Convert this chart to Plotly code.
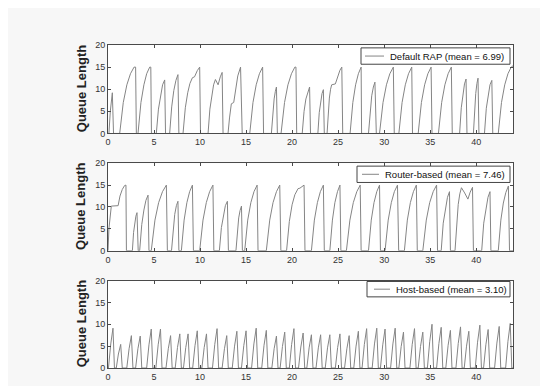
import plotly.graph_objects as go
from plotly.subplots import make_subplots

# ---------------- data ----------------
x_ticks = [0, 5, 10, 15, 20, 25, 30, 35, 40]
y_ticks = [0, 5, 10, 15, 20]

default_label = "Default RAP (mean = 6.99)"
router_label = "Router-based (mean = 7.46)"
host_label = "Host-based (mean = 3.10)"

default_t = [0, 0.1, 0.25, 0.47, 0.6, 1.27, 1.66, 2.05, 2.44, 2.83, 3.0, 3.08,
             3.26, 3.58, 3.9, 4.2, 4.53, 4.65, 4.72,
             5.25, 5.48, 5.7, 5.93, 6.16, 6.25,
             6.7, 6.92, 7.15, 7.38, 7.6, 7.7,
             8.15, 8.4, 8.66, 8.9, 9.17, 9.4, 9.7, 9.96, 10.05,
             10.87, 11.07, 11.27, 11.47, 11.67, 11.96, 12.2, 12.4, 12.5,
             13.04, 13.2, 13.4, 13.66, 13.85, 14.1, 14.4, 14.58,
             15.4, 15.75, 16.1, 16.45, 16.8, 16.9,
             17.75, 17.9, 18.05, 18.18, 18.3, 18.4,
             18.8, 19.18, 19.55, 19.93, 20.3, 20.42, 20.5,
             21.1, 21.3, 21.5, 21.7, 21.9, 22.0,
             22.8, 22.95, 23.1, 23.25, 23.4, 23.5,
             23.8, 23.92, 24.05, 24.18, 24.3, 24.7, 24.95, 25.2, 25.4, 25.5,
             26.3, 26.6, 26.9, 27.2, 27.5, 27.55,
             28.3, 28.48, 28.65, 28.83, 29.0, 29.15,
             29.5, 29.88, 30.25, 30.62, 31.0, 31.1,
             31.6, 31.95, 32.3, 32.65, 33.0, 33.08,
             33.7, 34.05, 34.4, 34.75, 35.1, 35.2,
             35.9, 36.25, 36.6, 36.95, 37.3, 37.4,
             38.2, 38.38, 38.55, 38.73, 38.9, 39.0,
             39.7, 39.82, 39.95, 40.08, 40.2, 40.3,
             40.9, 41.1, 41.3, 41.5, 41.7, 41.8,
             42.4, 42.75, 43.1, 43.45, 43.8, 44.0]
default_q = [0, 0, 5, 9.2, 0, 0, 7, 11, 13.5, 15, 15, 0,
             0, 7, 11, 13.5, 15, 15, 0,
             0, 5.5, 8.8, 11, 12.1, 0,
             0, 6, 9.7, 12, 13.3, 0,
             0, 5.8, 9.2, 11.3, 12.6, 12.8, 14.2, 15, 0,
             0, 5.5, 8.8, 11, 12.2, 11, 12.8, 13.8, 0,
             0, 3.5, 6.7, 7, 10, 13, 15, 0,
             0, 7, 11, 13.5, 15, 0,
             0, 5, 7.8, 9.5, 10.5, 0,
             0, 7, 11, 13.5, 15, 15, 0,
             0, 5, 7.8, 9.5, 10.5, 0,
             0, 4.7, 7.4, 9, 9.9, 0,
             0, 5, 8, 10, 11, 11.2, 13, 14.3, 15, 0,
             0, 7, 11, 13.5, 15, 0,
             0, 5.5, 8.5, 10.5, 11.6, 0,
             0, 7, 11, 13.5, 15, 0,
             0, 7, 11, 13.5, 15, 0,
             0, 7, 11, 13.5, 15, 0,
             0, 7, 11, 13.5, 15, 0,
             0, 5.8, 9, 11.2, 12.3, 0,
             0, 6, 9, 11.3, 12.5, 0,
             0, 5.7, 8.8, 11, 12, 0,
             0, 7, 11, 13.5, 15, 15.3]

router_t = [0, 0.1, 0.36, 0.7, 1.1, 1.3, 1.55, 1.8, 1.95, 2.0,
            2.65, 2.78, 2.9, 3.03, 3.15, 3.28,
            3.44, 3.67, 3.9, 4.12, 4.35, 4.45,
            4.7, 5.1, 5.5, 5.92, 6.34, 6.45,
            6.9, 7.08, 7.25, 7.43, 7.6, 7.7,
            7.97, 8.27, 8.57, 8.87, 9.17, 9.28,
            9.96, 10.32, 10.68, 11.04, 11.4, 11.5,
            12.1, 12.32, 12.53, 12.75, 12.97, 13.08,
            13.9, 14.05, 14.2, 14.35, 14.5, 14.6,
            14.85, 15.18, 15.52, 15.86, 16.2, 16.3,
            17.2, 17.57, 17.93, 18.3, 18.66, 18.78,
            19.4, 19.7, 20.0, 20.3, 20.65, 20.85, 21.1, 21.3, 21.4,
            22.1, 22.42, 22.75, 23.07, 23.4, 23.5,
            24.1, 24.38, 24.65, 24.93, 25.2, 25.3,
            25.9, 26.28, 26.65, 27.03, 27.4, 27.5,
            28.3, 28.6, 28.9, 29.2, 29.5, 29.6,
            30.1, 30.44, 30.78, 31.11, 31.45, 31.58,
            32.2, 32.52, 32.85, 33.18, 33.5, 33.6,
            34.2, 34.58, 34.95, 35.33, 35.7, 35.8,
            36.2, 36.42, 36.65, 36.88, 37.1, 37.2,
            37.7, 37.88, 38.05, 38.22, 38.4, 38.75, 39.1, 39.35, 39.6, 39.7,
            40.6, 40.82, 41.05, 41.28, 41.5, 41.6,
            42.4, 42.68, 42.95, 43.22, 43.5, 43.62, 44.0]
router_q = [0, 5, 10.2, 10.3, 10.3, 12.5, 14, 14.9, 15, 0,
            0, 4.2, 6.5, 7.9, 8.7, 0,
            0, 6, 9.3, 11.5, 12.7, 0,
            0, 7, 11, 13.5, 15, 0,
            0, 5.3, 8.3, 10.3, 11.3, 0,
            0, 7, 11, 13.5, 15, 0,
            0, 7, 11, 13.5, 15, 0,
            0, 5.3, 8.3, 10.3, 11.3, 0,
            0, 4.8, 7.5, 9.2, 10.2, 0,
            0, 7, 11, 13.5, 15, 0,
            0, 7, 11, 13.5, 15, 0,
            0, 6.7, 10.5, 12.8, 14.2, 14.3, 14.7, 15, 0,
            0, 7, 11, 13.5, 15, 0,
            0, 7, 11, 13.5, 15, 0,
            0, 7, 11, 13.5, 15, 0,
            0, 7, 11, 13.5, 15, 0,
            0, 7, 11, 13.5, 15, 0,
            0, 7, 11, 13.5, 15, 0,
            0, 7, 11, 13.5, 15, 0,
            0, 6.3, 9.9, 12.2, 13.5, 0,
            0, 6.8, 10.6, 13, 14.4, 13.2, 11.8, 13.4, 14.5, 0,
            0, 6.3, 9.9, 12.2, 13.5, 0,
            0, 7, 10.9, 13.3, 14.8, 0, 0]

host_t = [0, 0.05, 0.3, 0.54, 0.7, 0.9, 1.13, 1.38, 1.55,
          2.04, 2.29, 2.54, 2.71, 3.0, 3.25, 3.5, 3.67,
          4.2, 4.45, 4.7, 4.87, 5.2, 5.45, 5.7, 5.87,
          6.3, 6.55, 6.8, 6.97, 7.3, 7.55, 7.8, 7.97,
          8.2, 8.45, 8.7, 8.87, 9.2, 9.45, 9.7, 9.87,
          10.2, 10.45, 10.7, 10.87, 11.35, 11.6, 11.85, 12.02,
          12.4, 12.65, 12.9, 13.07, 13.5, 13.75, 14.0, 14.17,
          14.5, 14.75, 15.0, 15.17, 15.6, 15.85, 16.1, 16.27,
          16.7, 16.95, 17.2, 17.37, 17.8, 18.05, 18.3, 18.47,
          18.7, 18.95, 19.2, 19.37, 19.7, 19.95, 20.2, 20.37,
          20.7, 20.95, 21.2, 21.37, 21.6, 21.85, 22.1, 22.27,
          22.6, 22.85, 23.1, 23.27, 23.6, 23.85, 24.1, 24.27,
          24.7, 24.95, 25.2, 25.37, 25.7, 25.95, 26.2, 26.37,
          26.7, 26.95, 27.2, 27.37, 27.6, 27.85, 28.1, 28.27,
          28.7, 28.95, 29.2, 29.37, 29.6, 29.85, 30.1, 30.27,
          30.7, 30.95, 31.2, 31.37, 31.6, 31.85, 32.1, 32.27,
          32.8, 33.05, 33.3, 33.47, 33.7, 33.95, 34.2, 34.37,
          34.7, 34.95, 35.2, 35.37, 35.7, 35.95, 36.2, 36.37,
          36.7, 36.95, 37.2, 37.37, 37.8, 38.05, 38.3, 38.47,
          38.7, 38.95, 39.2, 39.37, 39.9, 40.15, 40.4, 40.57,
          40.8, 41.05, 41.3, 41.47, 42.0, 42.25, 42.5, 42.67,
          43.2, 43.45, 43.7, 43.87, 44.0]
host_q = [0, 0, 5.5, 9.1, 0, 0, 3.2, 5.4, 0,
          0, 4.4, 7.4, 0, 0, 4.4, 7.3, 0,
          0, 5.3, 8.9, 0, 0, 5.3, 8.9, 0,
          0, 4.4, 7.4, 0, 0, 4.7, 7.8, 0,
          0, 4.7, 7.8, 0, 0, 5.1, 8.5, 0,
          0, 4.7, 7.8, 0, 0, 5.4, 9.0, 0,
          0, 4.4, 7.4, 0, 0, 5.0, 8.4, 0,
          0, 5.1, 8.5, 0, 0, 5.5, 9.1, 0,
          0, 5.2, 8.6, 0, 0, 4.4, 7.3, 0,
          0, 4.9, 8.2, 0, 0, 5.4, 9.0, 0,
          0, 4.8, 8.0, 0, 0, 4.6, 7.6, 0,
          0, 4.6, 7.6, 0, 0, 4.6, 7.6, 0,
          0, 4.7, 7.8, 0, 0, 4.4, 7.4, 0,
          0, 5.0, 8.4, 0, 0, 5.4, 9.0, 0,
          0, 5.5, 9.1, 0, 0, 5.3, 8.9, 0,
          0, 5.5, 9.1, 0, 0, 4.9, 8.2, 0,
          0, 5.4, 9.0, 0, 0, 4.9, 8.2, 0,
          0, 6.0, 10.0, 0, 0, 5.6, 9.3, 0,
          0, 5.2, 8.6, 0, 0, 5.6, 9.4, 0,
          0, 5.0, 8.4, 0, 0, 5.9, 9.8, 0,
          0, 5.3, 8.8, 0, 0, 5.7, 9.5, 0,
          0, 6.1, 10.2, 0, 0]

# ---------------- figure ----------------
W, H = 548, 386
ML, MR, MT, MB = 100, 43, 37, 13
plot_h = H - MT - MB
plot_w = W - ML - MR


def py(pix):
    return 1 - (pix - MT) / plot_h


def px(pix):
    return (pix - ML) / plot_w


domains = [(py(129), py(37)), (py(251), py(160)), (py(373), py(282))]

fig = make_subplots(rows=3, cols=1)

line_color = "#858585"
series = [(default_t, default_q, default_label),
          (router_t, router_q, router_label),
          (host_t, host_q, host_label)]

for i, (t, q, name) in enumerate(series):
    fig.add_trace(go.Scatter(x=t, y=q, mode="lines", name=name,
                             line=dict(color=line_color, width=1),
                             showlegend=False),
                  row=i + 1, col=1)

axis_common = dict(showline=True, linecolor="#4a4a4a", linewidth=1,
                   mirror="ticks", ticks="inside", ticklen=3,
                   tickcolor="#4a4a4a", showgrid=False, zeroline=False,
                   tickfont=dict(family="Liberation Sans, Arial", size=9, color="#333333"))

for i in range(3):
    xa = "xaxis" if i == 0 else f"xaxis{i+1}"
    ya = "yaxis" if i == 0 else f"yaxis{i+1}"
    fig.layout[xa].update(range=[0, 44], tickvals=x_ticks, domain=[0, 1], **axis_common)
    fig.layout[ya].update(range=[0, 20], tickvals=y_ticks, domain=list(domains[i]), **axis_common)
    fig.add_annotation(text="<b>Queue Length</b>", textangle=-90,
                       xref="paper", yref="paper", x=px(73),
                       y=(domains[i][0] + domains[i][1]) / 2,
                       xanchor="center", yanchor="middle", showarrow=False,
                       font=dict(family="Liberation Sans, Arial", size=13, color="#222222"))

# hand-drawn legend boxes (compact, MATLAB style)
legend_boxes = [  # (left, top, bottom, line_x0, line_x1, text_x)
    (353, 40, 57, 357, 376, 380),
    (349, 163, 180, 354, 371, 375),
    (359, 283, 299, 366, 382, 386),
]
for (l, t, b, lx0, lx1, tx), (_, _, name) in zip(legend_boxes, series):
    fig.add_shape(type="rect", xref="paper", yref="paper",
                  x0=px(l), x1=px(502), y0=py(b), y1=py(t),
                  line=dict(color="#444444", width=1), fillcolor="#ffffff", layer="above")
    ym = py((t + b) / 2)
    fig.add_shape(type="line", xref="paper", yref="paper",
                  x0=px(lx0), x1=px(lx1), y0=ym, y1=ym,
                  line=dict(color=line_color, width=1), layer="above")
    fig.add_annotation(text=name, xref="paper", yref="paper", x=px(tx), y=ym,
                       xanchor="left", yanchor="middle", showarrow=False,
                       font=dict(family="Liberation Sans, Arial", size=9.5, color="#111111"))

fig.update_layout(width=W, height=H,
                  margin=dict(l=ML, r=MR, t=MT, b=MB),
                  paper_bgcolor="#f7f7f7", plot_bgcolor="#ffffff")

fig.write_html("out.html")
